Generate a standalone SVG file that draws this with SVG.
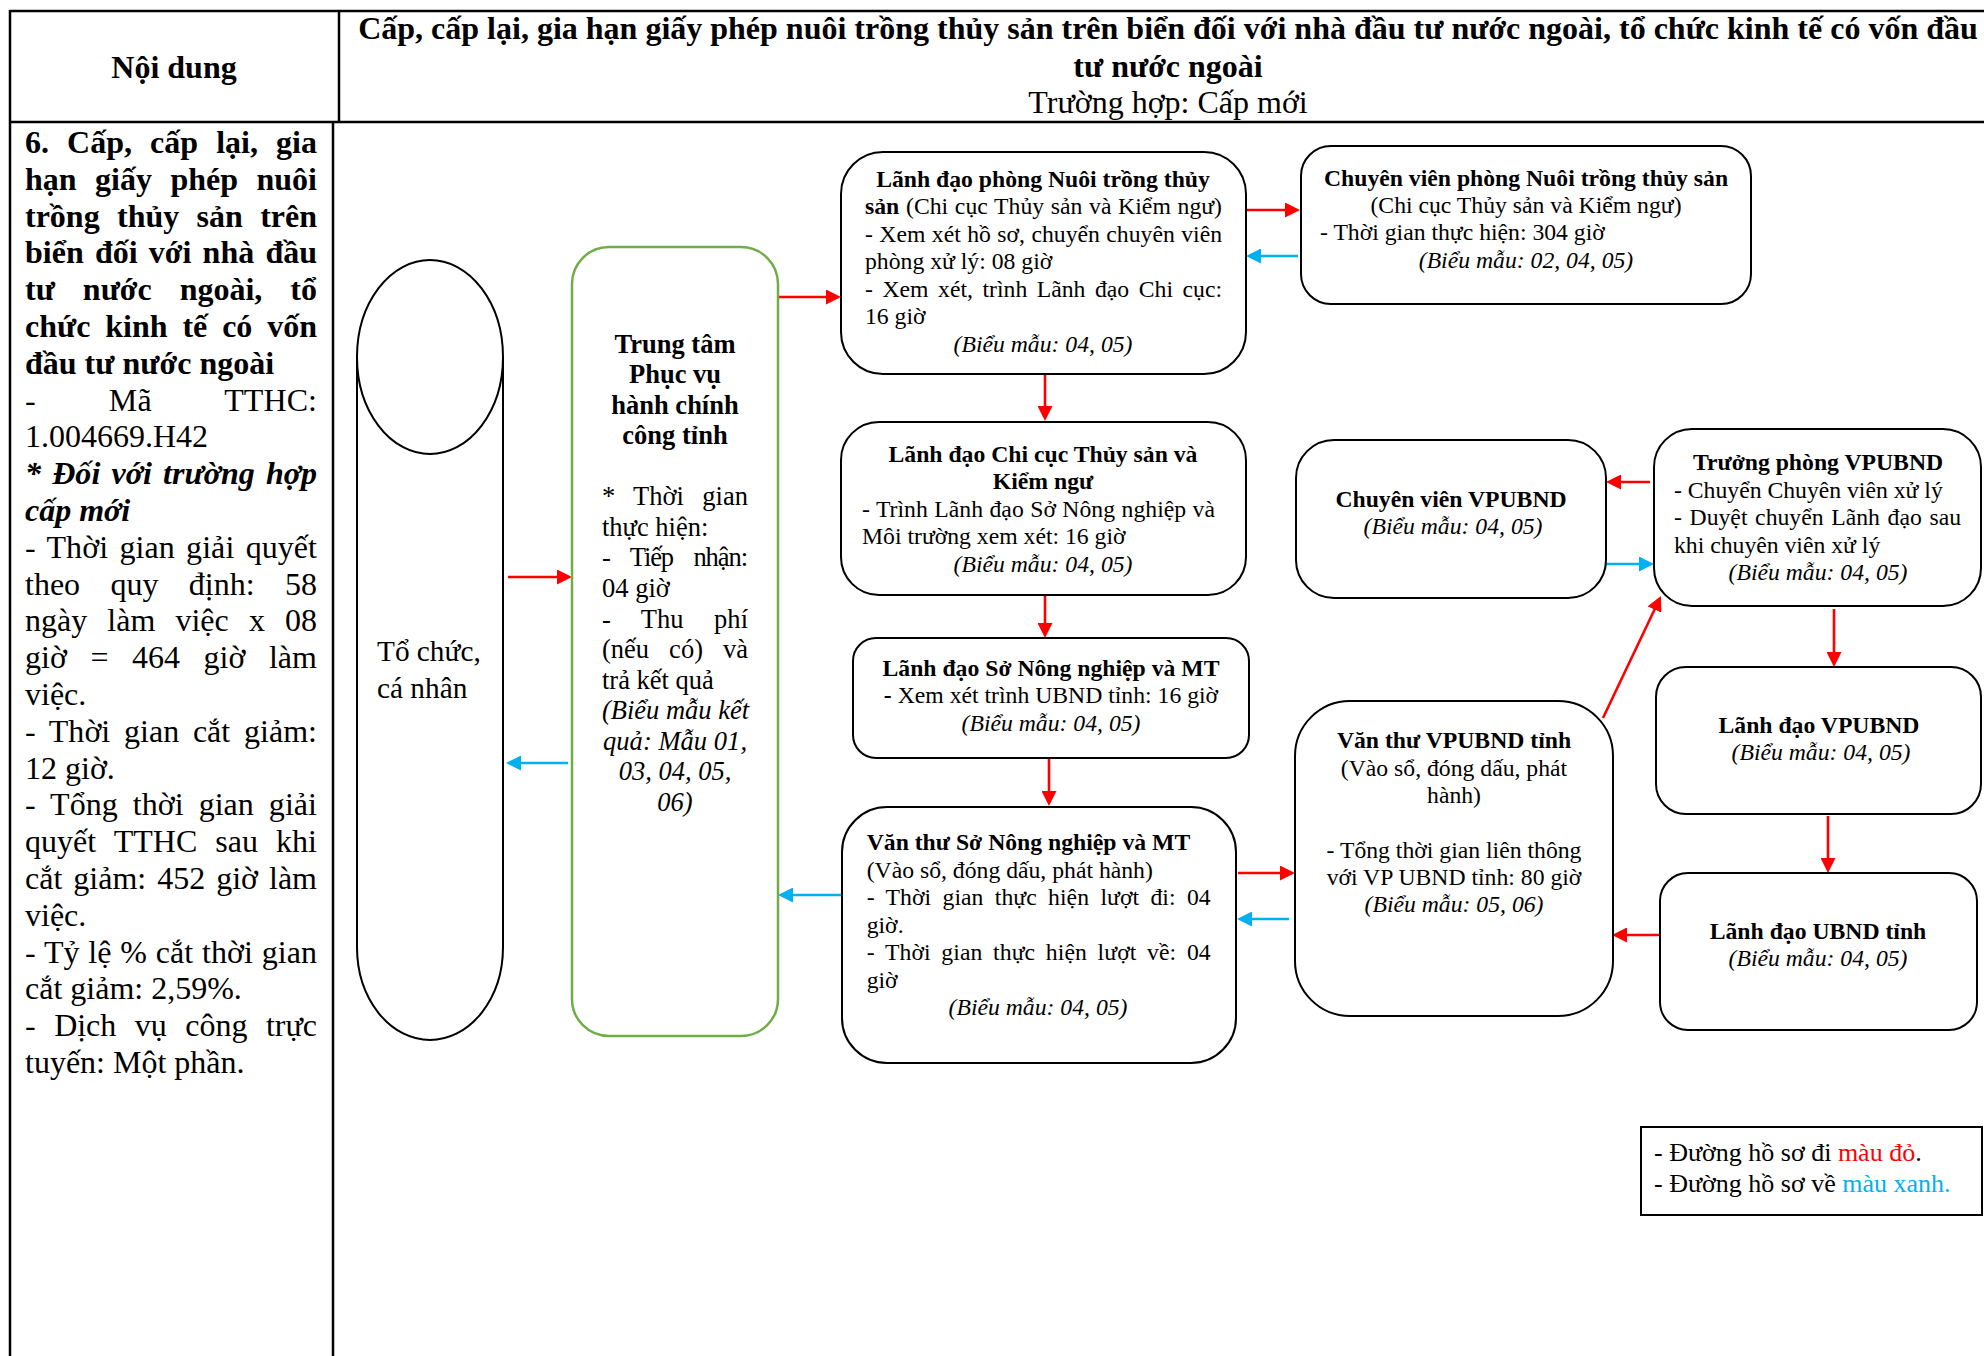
<svg xmlns="http://www.w3.org/2000/svg" width="1984" height="1356" viewBox="0 0 1984 1356">
<style>
text{font-family:"Liberation Serif","Times New Roman",serif;fill:#000}
.h{font-size:32px;font-weight:bold}
.lc{font-size:32px}
.b{font-weight:bold}
.bi{font-weight:bold;font-style:italic}
.i{font-style:italic}
.n{font-size:23.7px}
.g{font-size:26.5px}
.c{text-anchor:middle}
.box{fill:#fff;stroke:#000;stroke-width:2}
.tbl{stroke:#000;stroke-width:2.5;fill:none}
.r{stroke:#FF0000;stroke-width:2.6;fill:none;marker-end:url(#ar)}
.bl{stroke:#00B0F0;stroke-width:2.6;fill:none;marker-end:url(#ab)}
</style>
<defs>
<marker id="ar" markerUnits="userSpaceOnUse" markerWidth="16" markerHeight="15" refX="5" refY="7.5" orient="auto"><path d="M0,0 L15,7.5 L0,15 z" fill="#FF0000"/></marker>
<marker id="ab" markerUnits="userSpaceOnUse" markerWidth="16" markerHeight="15" refX="5" refY="7.5" orient="auto"><path d="M0,0 L15,7.5 L0,15 z" fill="#00B0F0"/></marker>
</defs>
<rect width="1984" height="1356" fill="#fff"/>

<g id="table">
<line class="tbl" x1="10" y1="11" x2="1984" y2="11"/>
<line class="tbl" x1="10" y1="122" x2="1984" y2="122"/>
<line class="tbl" x1="10" y1="10" x2="10" y2="1356"/>
<line class="tbl" x1="339" y1="11" x2="339" y2="122"/>
<line class="tbl" x1="333" y1="122" x2="333" y2="1356"/>
<text class="h c" x="174" y="78">Nội dung</text>
<text class="h c" x="1168" y="39">Cấp, cấp lại, gia hạn giấy phép nuôi trồng thủy sản trên biển đối với nhà đầu tư nước ngoài, tổ chức kinh tế có vốn đầu</text>
<text class="h c" x="1168" y="77">tư nước ngoài</text>
<text class="lc c" x="1168" y="113">Trường hợp: Cấp mới</text>
</g>

<g id="left-column" class="lc">
<text class="b" x="25" y="153" word-spacing="10.1" textLength="292" lengthAdjust="spacing">6. Cấp, cấp lại, gia</text>
<text class="b" x="25" y="189.8" word-spacing="10.5" textLength="292" lengthAdjust="spacing">hạn giấy phép nuôi</text>
<text class="b" x="25" y="226.6" word-spacing="9.3" textLength="292" lengthAdjust="spacing">trồng thủy sản trên</text>
<text class="b" x="25" y="263.4" word-spacing="3.2" textLength="292" lengthAdjust="spacing">biển đối với nhà đầu</text>
<text class="b" x="25" y="300.2" word-spacing="20" textLength="292" lengthAdjust="spacing">tư nước ngoài, tổ</text>
<text class="b" x="25" y="337" word-spacing="6.9" textLength="292" lengthAdjust="spacing">chức kinh tế có vốn</text>
<text class="b" x="25" y="373.8">đầu tư nước ngoài</text>
<text x="25" y="410.6" word-spacing="65" textLength="292" lengthAdjust="spacing">- Mã TTHC:</text>
<text x="25" y="447.4">1.004669.H42</text>
<text class="bi" x="25" y="484.2" word-spacing="3" textLength="292" lengthAdjust="spacing">* Đối với trường hợp</text>
<text class="bi" x="25" y="521">cấp mới</text>
<text x="25" y="557.8" word-spacing="3.3" textLength="292" lengthAdjust="spacing">- Thời gian giải quyết</text>
<text x="25" y="594.6" word-spacing="22.4" textLength="292" lengthAdjust="spacing">theo quy định: 58</text>
<text x="25" y="631.4" word-spacing="12.1" textLength="292" lengthAdjust="spacing">ngày làm việc x 08</text>
<text x="25" y="668.2" word-spacing="15.4" textLength="292" lengthAdjust="spacing">giờ = 464 giờ làm</text>
<text x="25" y="705">việc.</text>
<text x="25" y="741.8" word-spacing="5.6" textLength="292" lengthAdjust="spacing">- Thời gian cắt giảm:</text>
<text x="25" y="778.6">12 giờ.</text>
<text x="25" y="815.4" word-spacing="6.9" textLength="292" lengthAdjust="spacing">- Tổng thời gian giải</text>
<text x="25" y="852.2" word-spacing="9.9" textLength="292" lengthAdjust="spacing">quyết TTHC sau khi</text>
<text x="25" y="889" word-spacing="2.9" textLength="292" lengthAdjust="spacing">cắt giảm: 452 giờ làm</text>
<text x="25" y="925.8">việc.</text>
<text x="25" y="962.6" word-spacing="0.7" textLength="292" lengthAdjust="spacing">- Tỷ lệ % cắt thời gian</text>
<text x="25" y="999.4">cắt giảm: 2,59%.</text>
<text x="25" y="1036.2" word-spacing="10.5" textLength="292" lengthAdjust="spacing">- Dịch vụ công trực</text>
<text x="25" y="1073">tuyến: Một phần.</text>
</g>

<g id="connectors">
<line class="r" x1="508" y1="577" x2="562" y2="577"/>
<line class="bl" x1="568" y1="763" x2="516" y2="763"/>
<line class="r" x1="778" y1="297" x2="831" y2="297"/>
<line class="r" x1="1246" y1="210" x2="1290" y2="210"/>
<line class="bl" x1="1298" y1="256" x2="1256" y2="256"/>
<line class="r" x1="1045" y1="375" x2="1045" y2="411"/>
<line class="r" x1="1045" y1="596" x2="1045" y2="628"/>
<line class="r" x1="1049" y1="759" x2="1049" y2="796"/>
<line class="bl" x1="841" y1="895" x2="788" y2="895"/>
<line class="r" x1="1238" y1="873" x2="1285" y2="873"/>
<line class="bl" x1="1289" y1="919" x2="1247" y2="919"/>
<line class="r" x1="1603" y1="718" x2="1656.7" y2="605"/>
<line class="r" x1="1650" y1="482" x2="1616" y2="482"/>
<line class="bl" x1="1606" y1="564" x2="1644" y2="564"/>
<line class="r" x1="1834" y1="609" x2="1834" y2="657"/>
<line class="r" x1="1828" y1="816" x2="1828" y2="863"/>
<line class="r" x1="1661" y1="935" x2="1622" y2="935"/>
</g>

<g id="to-chuc-ca-nhan">
<path d="M357,357 V947 A73,93 0 0 0 503,947 V357" fill="none" stroke="#000" stroke-width="2"/>
<ellipse cx="430" cy="357" rx="73" ry="97" fill="none" stroke="#000" stroke-width="2"/>
<text x="377" y="661" style="font-size:29.3px">Tổ chức,</text>
<text x="377" y="698" style="font-size:29.3px">cá nhân</text>
</g>

<g id="trung-tam" class="g">
<rect x="572" y="247" width="206" height="789" rx="37" fill="#fff" stroke="#70AD47" stroke-width="2.5"/>
<text class="b c" x="675" y="352.5">Trung tâm</text>
<text class="b c" x="675" y="383">Phục vụ</text>
<text class="b c" x="675" y="413.6">hành chính</text>
<text class="b c" x="675" y="444.2">công tỉnh</text>
<text x="602" y="505.3" word-spacing="11.4" textLength="146" lengthAdjust="spacing">* Thời gian</text>
<text x="602" y="535.8">thực hiện:</text>
<text x="602" y="566.4" word-spacing="14.9" textLength="146" lengthAdjust="spacing">- Tiếp nhận:</text>
<text x="602" y="597">04 giờ</text>
<text x="602" y="627.5" word-spacing="23.7" textLength="146" lengthAdjust="spacing">- Thu phí</text>
<text x="602" y="658" word-spacing="13.4" textLength="146" lengthAdjust="spacing">(nếu có) và</text>
<text x="602" y="688.6">trả kết quả</text>
<text class="i" x="602" y="719.2" textLength="147" lengthAdjust="spacing">(Biểu mẫu kết</text>
<text class="i" x="603" y="749.7" textLength="144" lengthAdjust="spacing">quả: Mẫu 01,</text>
<text class="i c" x="675" y="780.3">03, 04, 05,</text>
<text class="i c" x="675" y="810.8">06)</text>
</g>

<g id="lanh-dao-phong-nts" class="n">
<rect class="box" x="841" y="152" width="405" height="222" rx="42"/>
<text class="b c" x="1043" y="186.5">Lãnh đạo phòng Nuôi trồng thủy</text>
<text x="865" y="214" word-spacing="0.7" textLength="357" lengthAdjust="spacing"><tspan class="b">sản</tspan> (Chi cục Thủy sản và Kiểm ngư)</text>
<text x="865" y="241.5" word-spacing="0.5" textLength="357" lengthAdjust="spacing">- Xem xét hồ sơ, chuyển chuyên viên</text>
<text x="865" y="269">phòng xử lý: 08 giờ</text>
<text x="865" y="296.5" word-spacing="3.6" textLength="357" lengthAdjust="spacing">- Xem xét, trình Lãnh đạo Chi cục:</text>
<text x="865" y="324">16 giờ</text>
<text class="i c" x="1043" y="351.5">(Biểu mẫu: 04, 05)</text>
</g>

<g id="chuyen-vien-phong-nts" class="n">
<rect class="box" x="1301" y="146" width="450" height="158" rx="30"/>
<text class="b c" x="1526" y="186">Chuyên viên phòng Nuôi trồng thủy sản</text>
<text class="c" x="1526" y="213">(Chi cục Thủy sản và Kiểm ngư)</text>
<text x="1320" y="240">- Thời gian thực hiện: 304 giờ</text>
<text class="i c" x="1526" y="267.5">(Biểu mẫu: 02, 04, 05)</text>
</g>

<g id="lanh-dao-chi-cuc" class="n">
<rect class="box" x="841" y="422" width="405" height="173" rx="38"/>
<text class="b c" x="1043" y="461.5">Lãnh đạo Chi cục Thủy sản và</text>
<text class="b c" x="1043" y="489">Kiểm ngư</text>
<text x="862" y="516.5" word-spacing="0.4" textLength="353" lengthAdjust="spacing">- Trình Lãnh đạo Sở Nông nghiệp và</text>
<text x="862" y="544">Môi trường xem xét: 16 giờ</text>
<text class="i c" x="1043" y="571.5">(Biểu mẫu: 04, 05)</text>
</g>

<g id="lanh-dao-so" class="n">
<rect class="box" x="853" y="638" width="396" height="120" rx="23"/>
<text class="b c" x="1051" y="676">Lãnh đạo Sở Nông nghiệp và MT</text>
<text class="c" x="1051" y="703"><tspan class="b">-</tspan> Xem xét trình UBND tỉnh: 16 giờ</text>
<text class="i c" x="1051" y="730.5">(Biểu mẫu: 04, 05)</text>
</g>

<g id="van-thu-so" class="n">
<rect class="box" x="842" y="807" width="394" height="256" rx="45"/>
<text class="b" x="866.7" y="850">Văn thư Sở Nông nghiệp và MT</text>
<text x="866.7" y="877.5">(Vào sổ, đóng dấu, phát hành)</text>
<text x="866.7" y="905" word-spacing="5.4" textLength="344" lengthAdjust="spacing">- Thời gian thực hiện lượt đi: 04</text>
<text x="866.7" y="932.5">giờ.</text>
<text x="866.7" y="960" word-spacing="4.8" textLength="344" lengthAdjust="spacing">- Thời gian thực hiện lượt về: 04</text>
<text x="866.7" y="987.5">giờ</text>
<text class="i c" x="1038" y="1015">(Biểu mẫu: 04, 05)</text>
</g>

<g id="van-thu-vpubnd" class="n">
<rect class="box" x="1295" y="701" width="318" height="315" rx="55"/>
<text class="b c" x="1454" y="748">Văn thư VPUBND tỉnh</text>
<text class="c" x="1454" y="775.5">(Vào sổ, đóng dấu, phát</text>
<text class="c" x="1454" y="803">hành)</text>
<text class="c" x="1454" y="858">- Tổng thời gian liên thông</text>
<text class="c" x="1454" y="885">với VP UBND tỉnh: 80 giờ</text>
<text class="i c" x="1454" y="912">(Biểu mẫu: 05, 06)</text>
</g>

<g id="chuyen-vien-vpubnd" class="n">
<rect class="box" x="1296" y="440" width="310" height="158" rx="38"/>
<text class="b c" x="1451" y="507">Chuyên viên VPUBND</text>
<text class="i c" x="1453" y="534">(Biểu mẫu: 04, 05)</text>
</g>

<g id="truong-phong-vpubnd" class="n">
<rect class="box" x="1654" y="429" width="327" height="177" rx="38"/>
<text class="b c" x="1818" y="470">Trưởng phòng VPUBND</text>
<text x="1674" y="497.5">- Chuyển Chuyên viên xử lý</text>
<text x="1674" y="525" word-spacing="1.7" textLength="287" lengthAdjust="spacing">- Duyệt chuyển Lãnh đạo sau</text>
<text x="1674" y="552.5">khi chuyên viên xử lý</text>
<text class="i c" x="1818" y="580">(Biểu mẫu: 04, 05)</text>
</g>

<g id="lanh-dao-vpubnd" class="n">
<rect class="box" x="1656" y="667" width="325" height="147" rx="30"/>
<text class="b c" x="1819" y="733">Lãnh đạo VPUBND</text>
<text class="i c" x="1821" y="760">(Biểu mẫu: 04, 05)</text>
</g>

<g id="lanh-dao-ubnd-tinh" class="n">
<rect class="box" x="1660" y="873" width="317" height="157" rx="28"/>
<text class="b c" x="1818" y="939">Lãnh đạo UBND tỉnh</text>
<text class="i c" x="1818" y="966">(Biểu mẫu: 04, 05)</text>
</g>

<g id="legend" style="font-size:26px">
<rect x="1641" y="1127" width="341" height="88" fill="#fff" stroke="#000" stroke-width="2"/>
<text x="1654" y="1161">- Đường hồ sơ đi <tspan fill="#FF0000" style="fill:#FF0000">màu đỏ</tspan>.</text>
<text x="1654" y="1192">- Đường hồ sơ về <tspan style="fill:#00B0F0">màu xanh.</tspan></text>
</g>
</svg>
